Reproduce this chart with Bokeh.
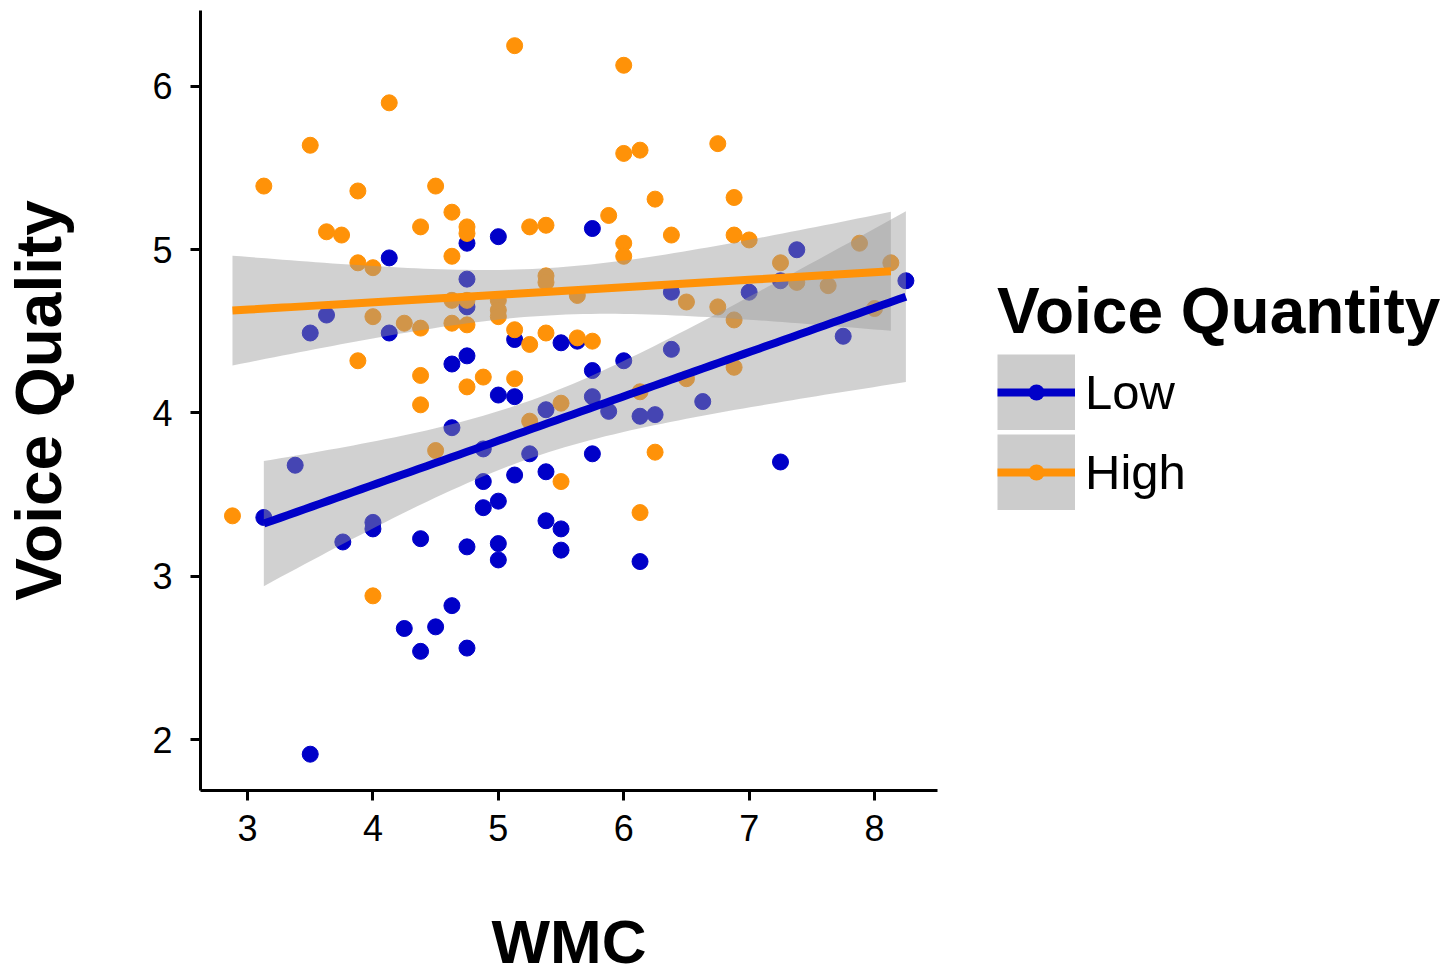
import numpy as np
from bokeh.plotting import figure
from bokeh.layouts import row
from bokeh.models import Range1d, Legend, LegendItem, FixedTicker
from bokeh.embed import file_html
from bokeh.resources import INLINE

# ---- data ----
low_wmc = [3.13, 3.38, 3.50, 3.50, 3.63, 3.76, 4.00, 4.00, 4.13, 4.13, 4.25, 4.38, 4.38, 4.50, 4.63,
           4.63, 4.63, 4.75, 4.75, 4.75, 4.75, 4.75, 4.75, 4.88, 4.88, 4.88, 5.00, 5.00, 5.00, 5.00,
           5.00, 5.13, 5.13, 5.13, 5.25, 5.38, 5.38, 5.38, 5.50, 5.50, 5.50, 5.63, 5.75, 5.75, 5.75,
           5.75, 5.88, 6.00, 6.13, 6.13, 6.25, 6.38, 6.38, 6.63, 7.00, 7.25, 7.25, 7.38, 7.75, 8.25]
low_quality = [3.36, 3.68, 4.49, 1.91, 4.60, 3.21, 3.33, 3.29, 4.95, 4.49, 2.68, 3.23, 2.54, 2.69, 4.30,
               3.91, 2.82, 5.04, 4.82, 4.65, 4.35, 3.18, 2.56, 3.78, 3.58, 3.42, 5.08, 4.11, 3.46, 3.20,
               3.10, 4.45, 4.10, 3.62, 3.75, 4.02, 3.64, 3.34, 4.43, 3.29, 3.16, 4.44, 5.13, 4.26, 4.10,
               3.75, 4.01, 4.32, 3.98, 3.09, 3.99, 4.74, 4.39, 4.07, 4.74, 4.81, 3.70, 5.00, 4.47, 4.81]

high_wmc = [2.88, 3.13, 3.50, 3.63, 3.75, 3.88, 3.88, 3.88, 4.00, 4.00, 4.00, 4.13, 4.25, 4.38, 4.38,
            4.38, 4.38, 4.50, 4.50, 4.63, 4.63, 4.63, 4.63, 4.75, 4.75, 4.75, 4.75, 4.75, 4.88, 5.00,
            5.00, 5.00, 5.13, 5.13, 5.13, 5.25, 5.25, 5.25, 5.38, 5.38, 5.38, 5.38, 5.50, 5.50, 5.63,
            5.63, 5.75, 5.88, 6.00, 6.00, 6.00, 6.00, 6.13, 6.13, 6.13, 6.25, 6.25, 6.38, 6.50, 6.50,
            6.75, 6.75, 6.88, 6.88, 6.88, 6.88, 7.00, 7.25, 7.38, 7.63, 7.88, 8.00, 8.13]
high_quality = [3.37, 5.39, 5.64, 5.11, 5.09, 5.36, 4.92, 4.32, 4.89, 4.59, 2.88, 5.90, 4.55, 5.14, 4.52,
                4.23, 4.05, 5.39, 3.77, 5.23, 4.96, 4.69, 4.55, 5.14, 5.10, 4.69, 4.54, 4.16, 4.22, 4.69,
                4.63, 4.59, 6.25, 4.51, 4.21, 5.14, 4.42, 3.95, 5.15, 4.84, 4.80, 4.49, 4.06, 3.58, 4.72,
                4.46, 4.44, 5.21, 6.13, 5.59, 5.04, 4.96, 5.61, 4.13, 3.39, 5.31, 3.76, 5.09, 4.68, 4.21,
                5.65, 4.65, 5.32, 5.09, 4.57, 4.28, 5.06, 4.92, 4.80, 4.78, 5.04, 4.64, 4.92]

x_ticks = [3, 4, 5, 6, 7, 8]
y_ticks = [2, 3, 4, 5, 6]
group_labels = ["Low", "High"]
group_colors = ["#0000C8", "#FF9208"]
legend_title = "Voice Quantity"
x_title = "WMC"
y_title = "Voice Quality"

FONT = "Liberation Sans"


def lm_fit(x, y, t):
    x = np.asarray(x, float)
    y = np.asarray(y, float)
    n = len(x)
    b, a = np.polyfit(x, y, 1)
    xs = np.linspace(x.min(), x.max(), 80)
    yhat = a + b * xs
    resid = y - (a + b * x)
    s = np.sqrt(np.sum(resid ** 2) / (n - 2))
    se = s * np.sqrt(1.0 / n + (xs - x.mean()) ** 2 / np.sum((x - x.mean()) ** 2))
    return xs, yhat, yhat - t * se, yhat + t * se


MAIN_W = 950
p = figure(width=MAIN_W, height=980,
           x_range=Range1d(2.625, 8.502), y_range=Range1d(1.6876, 6.4655),
           output_backend="svg", toolbar_location=None,
           min_border_left=200, min_border_right=MAIN_W - 937, min_border_top=10, min_border_bottom=190)
p.grid.visible = False
p.outline_line_color = None

groups = [(low_wmc, low_quality, 2.0017), (high_wmc, high_quality, 1.9939)]

# points
for (gx, gy, _), col in zip(groups, group_colors):
    p.scatter(gx, gy, size=16, fill_color=col, line_color=col)

# ribbons and fit lines
fits = [lm_fit(gx, gy, t) for gx, gy, t in groups]
for xs, yhat, lo, hi in fits:
    p.varea(x=xs, y1=lo, y2=hi, fill_color="#999999", fill_alpha=0.45)
for (xs, yhat, lo, hi), col in zip(fits, group_colors):
    p.line(xs, yhat, line_width=8, line_color=col)

# axes
p.xaxis.ticker = FixedTicker(ticks=x_ticks)
p.yaxis.ticker = FixedTicker(ticks=y_ticks)
p.xaxis.axis_label = x_title
p.yaxis.axis_label = y_title
for ax in (p.xaxis[0], p.yaxis[0]):
    ax.axis_line_width = 3
    ax.axis_line_color = "black"
    ax.major_tick_line_width = 3
    ax.major_tick_line_color = "black"
    ax.major_tick_out = 10
    ax.major_tick_in = 0
    ax.minor_tick_line_color = None
    ax.major_label_text_font = FONT
    ax.major_label_text_font_size = "36px"
    ax.major_label_text_color = "black"
    ax.axis_label_text_font = FONT
    ax.axis_label_text_font_style = "bold"
    ax.axis_label_text_color = "black"
p.xaxis.axis_label_text_font_size = "62px"
p.yaxis.axis_label_text_font_size = "64px"
p.xaxis.major_label_standoff = 14
p.yaxis.major_label_standoff = 18
p.xaxis.axis_label_standoff = 63
p.yaxis.axis_label_standoff = 74

# ---- legend panel (separate figure so nothing is clipped) ----
LEG_W = 1453 - MAIN_W
pl = figure(width=LEG_W, height=980, x_range=Range1d(0, 1), y_range=Range1d(0, 1),
            x_axis_type=None, y_axis_type=None,
            output_backend="svg", toolbar_location=None, min_border=0)
pl.grid.visible = False
pl.outline_line_color = None

nan = np.array([np.nan])
items = []
for lab, col in zip(group_labels, group_colors):
    bg = pl.line(x=nan, y=nan, line_width=76, line_color="#CCCCCC")
    ln = pl.line(x=nan, y=nan, line_width=8, line_color=col)
    dot = pl.line(x=nan, y=nan, line_width=16, line_color=col, line_cap="round",
                  line_dash="0 300", line_dash_offset=261)
    items.append(LegendItem(label=lab, renderers=[bg, ln, dot]))

legend = Legend(items=items, location=(997 - MAIN_W, 280))
legend.title = legend_title
legend.title_text_font = FONT
legend.title_text_font_size = "64px"
legend.title_text_font_style = "bold"
legend.title_text_color = "black"
legend.title_standoff = 6
legend.label_text_font = FONT
legend.label_text_font_size = "49px"
legend.label_text_color = "black"
legend.label_standoff = 10
legend.glyph_width = 78
legend.glyph_height = 76
legend.label_height = 76
legend.spacing = 4
legend.padding = 0
legend.margin = 0
legend.border_line_color = None
legend.background_fill_alpha = 0
pl.add_layout(legend)

layout = row(p, pl, spacing=0)
open("out.html", "w").write(file_html(layout, INLINE))
